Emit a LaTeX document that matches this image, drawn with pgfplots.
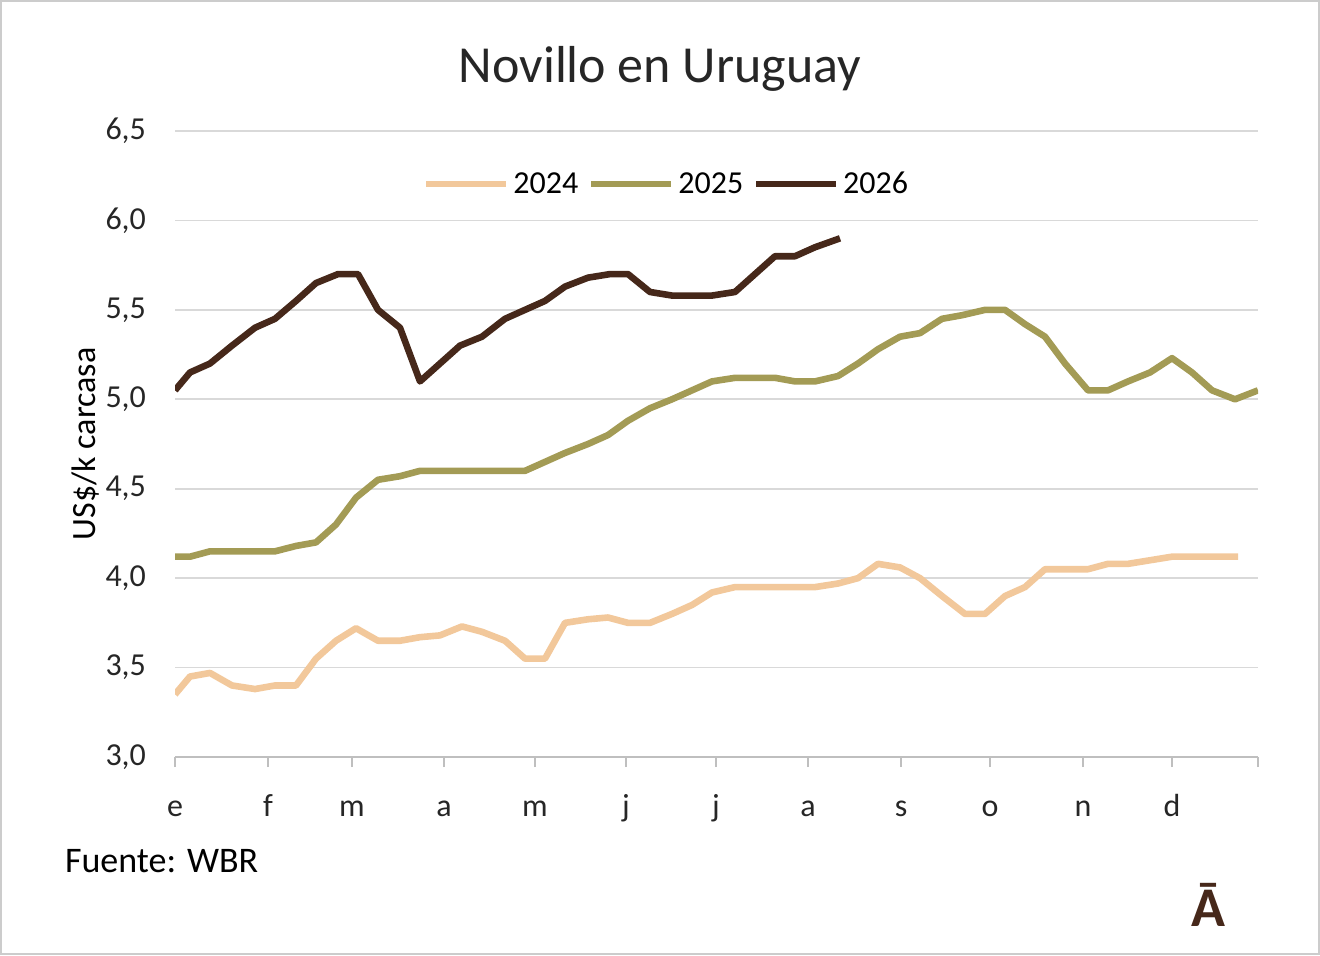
\documentclass[border=0pt]{standalone}
\usepackage{pgfplots}
\pgfplotsset{compat=1.18}
\usepackage{fontspec}
\setmainfont{Carlito}
\definecolor{c24}{HTML}{F2C89B}
\definecolor{c25}{HTML}{A39B55}
\definecolor{c26}{HTML}{46281A}
\begin{document}
\begin{tikzpicture}
\draw[gray!40, line width=0.8pt] (0.4pt,0.4pt) rectangle (659.6pt,477.1pt);
\node[font=\fontsize{26}{29}\selectfont, text=black!85] at (330pt,443pt) {Novillo en Uruguay};
\begin{axis}[
  at={(87.5pt,99pt)}, anchor=south west, scale only axis,
  width=541.5pt, height=313pt,
  xmin=175, xmax=1258, ymin=3, ymax=6.5,
  xtick={175,268,352,444,535,626,716,808,901,990,1083,1172,1258},
  xticklabels={e,f,m,a,m,j,j,a,s,o,n,d,},
  ytick={3,3.5,4,4.5,5,5.5,6,6.5},
  yticklabel style={xshift=-6pt, /pgf/number format/.cd,fixed,fixed zerofill,precision=1,use comma},
  /pgf/number format/assume math mode=true,
  ymajorgrids, grid style={gray!30, line width=0.8pt},
  axis line style={draw=none},
  axis x line*=bottom, axis y line*=left,
  x axis line style={draw=gray!50, line width=0.8pt},
  xtick style={draw=gray!50, line width=0.8pt},
  tick align=outside, major tick length=5pt,
  ytick style={draw=none},
  tick label style={font=\fontsize{16}{18}\selectfont, text=black!85},
  xticklabel style={text height=9pt, text depth=3pt, yshift=-12pt},
  ylabel={US\$/k carcasa}, ylabel style={font=\fontsize{17}{20}\selectfont, yshift=-4pt},
  legend style={at={(0.455,0.948)}, anchor=north, draw=none, fill=none, legend columns=3,
    font=\fontsize{16}{18}\selectfont, column sep=3pt,
    /tikz/every odd column/.style={column sep=0pt}},
  legend image code/.code={\draw[#1, line width=3pt] (0pt,0pt) -- (40pt,0pt);},
  every axis plot/.append style={line width=3.3pt, mark=none, line join=round},
]
\addplot[c24] coordinates {(175,3.35)(190,3.45)(210,3.47)(232,3.4)(255,3.38)(275,3.4)(296,3.4)(316,3.55)(336,3.65)(356,3.72)(378,3.65)(400,3.65)(420,3.67)(440,3.68)(462,3.73)(482,3.7)(505,3.65)(525,3.55)(545,3.55)(565,3.75)(588,3.77)(608,3.78)(628,3.75)(650,3.75)(672,3.8)(692,3.85)(712,3.92)(735,3.95)(755,3.95)(775,3.95)(795,3.95)(815,3.95)(838,3.97)(858,4.0)(878,4.08)(900,4.06)(920,4.0)(942,3.9)(965,3.8)(985,3.8)(1005,3.9)(1025,3.95)(1045,4.05)(1065,4.05)(1088,4.05)(1108,4.08)(1128,4.08)(1150,4.1)(1172,4.12)(1192,4.12)(1212,4.12)(1238,4.12)};
\addlegendentry{2024}
\addplot[c25] coordinates {(175,4.12)(190,4.12)(210,4.15)(232,4.15)(255,4.15)(275,4.15)(296,4.18)(316,4.2)(336,4.3)(356,4.45)(378,4.55)(400,4.57)(420,4.6)(440,4.6)(460,4.6)(482,4.6)(505,4.6)(525,4.6)(545,4.65)(565,4.7)(588,4.75)(608,4.8)(628,4.88)(650,4.95)(672,5.0)(692,5.05)(712,5.1)(735,5.12)(755,5.12)(775,5.12)(795,5.1)(815,5.1)(838,5.13)(858,5.2)(878,5.28)(900,5.35)(920,5.37)(942,5.45)(962,5.47)(985,5.5)(1005,5.5)(1025,5.42)(1045,5.35)(1065,5.2)(1088,5.05)(1108,5.05)(1128,5.1)(1150,5.15)(1172,5.23)(1192,5.15)(1212,5.05)(1235,5.0)(1258,5.05)};
\addlegendentry{2025}
\addplot[c26] coordinates {(175,5.05)(190,5.15)(210,5.2)(232,5.3)(255,5.4)(275,5.45)(296,5.55)(316,5.65)(338,5.7)(358,5.7)(378,5.5)(400,5.4)(420,5.1)(440,5.2)(460,5.3)(482,5.35)(505,5.45)(525,5.5)(545,5.55)(565,5.63)(588,5.68)(610,5.7)(628,5.7)(650,5.6)(672,5.58)(692,5.58)(712,5.58)(735,5.6)(755,5.7)(775,5.8)(795,5.8)(815,5.85)(840,5.9)};
\addlegendentry{2026}
\end{axis}
\node[anchor=west, font=\fontsize{18}{20}\selectfont] at (29pt,47pt) {Fuente: WBR};
\node[font=\fontsize{28}{30}\selectfont\bfseries, text=c26] at (604pt,25pt) {Ā};
\end{tikzpicture}
\end{document}
